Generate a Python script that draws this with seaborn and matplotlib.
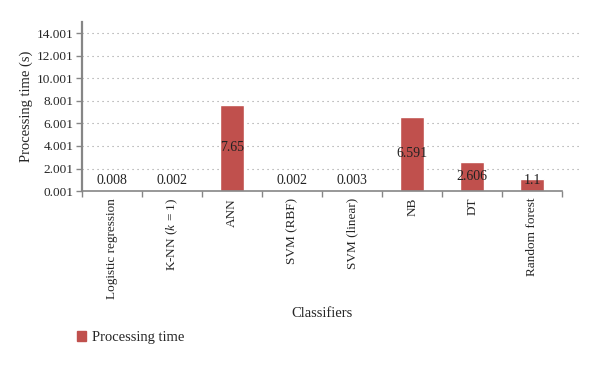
import pandas as pd
import matplotlib
matplotlib.use("Agg")
import matplotlib.pyplot as plt
import seaborn as sns

# Data
classifiers = ["Logistic regression", "K-NN ($k$ = 1)", "ANN", "SVM (RBF)",
               "SVM (linear)", "NB", "DT", "Random forest"]
times = [0.008, 0.002, 7.65, 0.002, 0.003, 6.591, 2.606, 1.1]
value_labels = ["0.008", "0.002", "7.65", "0.002", "0.003", "6.591", "2.606", "1.1"]
y_ticks = [0.001, 2.001, 4.001, 6.001, 8.001, 10.001, 12.001, 14.001]

sns.set_style("white")
plt.rcParams['font.family'] = ['Liberation Serif', 'DejaVu Serif']
plt.rcParams['mathtext.fontset'] = 'custom'
plt.rcParams['mathtext.rm'] = 'Liberation Serif'
plt.rcParams['mathtext.it'] = 'Liberation Serif:italic'

df = pd.DataFrame({'Classifier': classifiers, 'Time': times})

fig = plt.figure(figsize=(6, 3.66), dpi=100)
ax = fig.add_axes([0.137, 0.478, 0.800, 0.462])

bar_color = '#C0504D'
sns.barplot(x='Classifier', y='Time', data=df, color=bar_color, width=0.4,
            saturation=1, ax=ax)

ax.set_ylim(0.001, 15.0)
ax.set_xlim(-0.5, len(classifiers) - 0.5)

# dotted grid lines, slightly running past the plot area like the original
for t in y_ticks[1:]:
    ax.axhline(t, xmin=0, xmax=1.042, color='#9a9a9a', linestyle=(0, (1, 3.5)),
               linewidth=0.8, clip_on=False, zorder=0)

# value labels in the middle of the bars
for i, (v, lab) in enumerate(zip(times, value_labels)):
    ax.text(i, max(v / 2, 0.9), lab, ha='center', va='center', fontsize=10,
            color='#222222')

ax.set_yticks(y_ticks)
ax.set_yticklabels([f"{t:.3f}" for t in y_ticks], fontsize=9.5)
ax.set_xticks(range(len(classifiers)))
ax.set_xticklabels(classifiers, rotation=90, fontsize=9.5, va='top')
ax.set_xticks([i - 0.5 for i in range(len(classifiers) + 1)], minor=True)
ax.tick_params(axis='x', which='major', length=0, pad=5)
ax.tick_params(axis='x', which='minor', bottom=True, length=4, color='#868686',
               width=1, direction='out')
ax.tick_params(axis='y', left=True, length=4, color='#868686', width=1,
               direction='out', pad=2)

for side in ['top', 'right']:
    ax.spines[side].set_visible(False)
ax.spines['left'].set_color('#868686')
ax.spines['left'].set_linewidth(1.6)
ax.spines['bottom'].set_color('#868686')
ax.spines['bottom'].set_linewidth(1.2)

ax.set_xlabel("Classifiers", fontsize=10.5, labelpad=6)
ax.set_ylabel("Processing time (s)", fontsize=10.5)
ax.yaxis.set_label_coords(-0.102, 0.5)

handle = plt.Rectangle((0, 0), 1, 1, color=bar_color)
fig.legend([handle], ["Processing time"], loc='center left',
           bbox_to_anchor=(0.128, 0.078), frameon=False, fontsize=10.5,
           handlelength=0.65, handleheight=0.65, handletextpad=0.4,
           borderpad=0, borderaxespad=0)

fig.savefig("out.png", dpi=100)
